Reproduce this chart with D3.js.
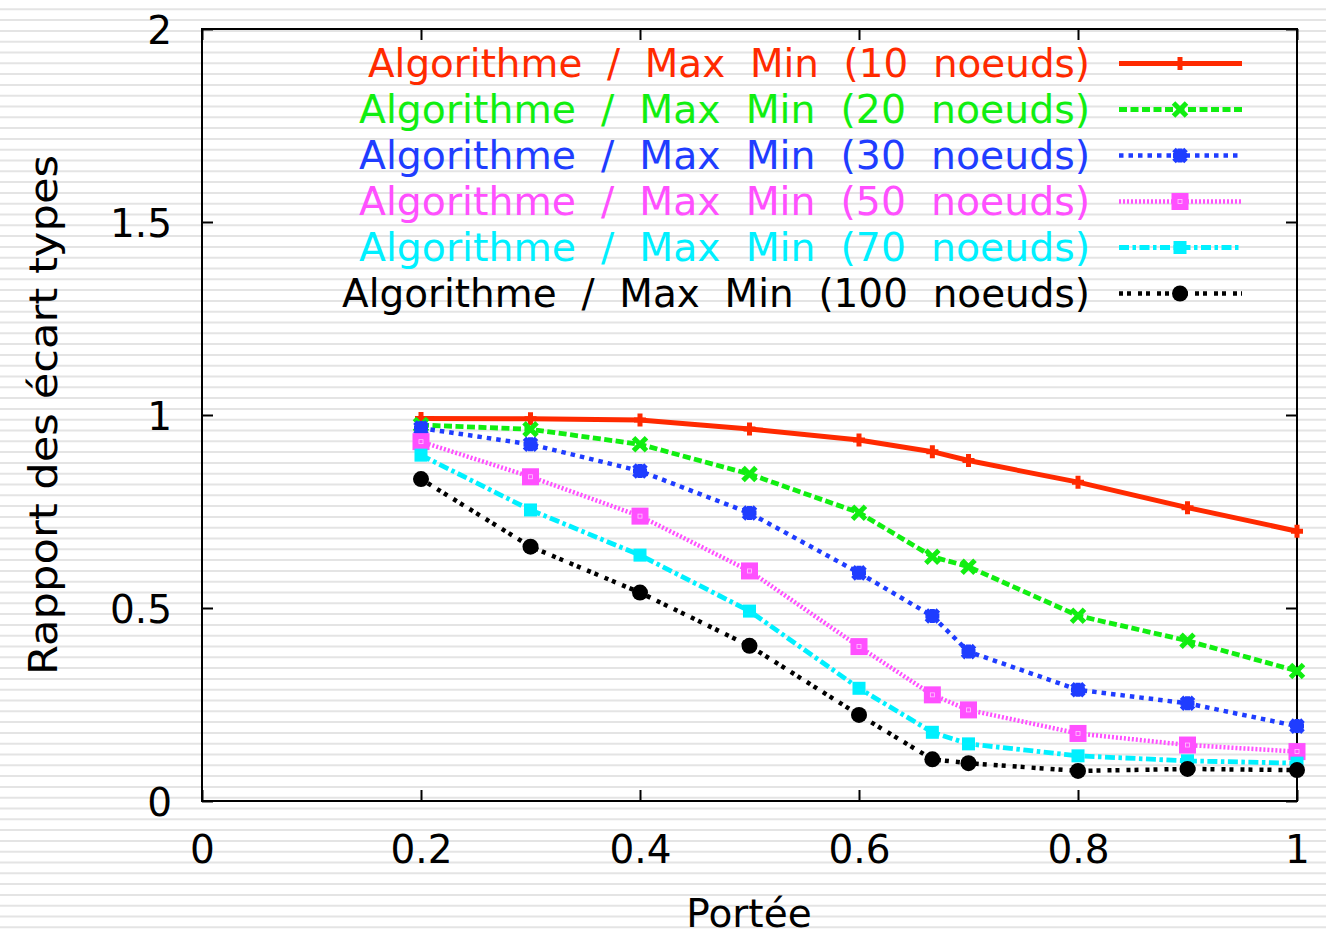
<!DOCTYPE html>
<html>
<head>
<meta charset="utf-8">
<script src="https://cdn.jsdelivr.net/npm/d3@7"></script>
<style>
  html, body { margin: 0; padding: 0; background: #fff; }
  svg { display: block; }
  text { font-family: "DejaVu Sans", sans-serif; }
</style>
</head>
<body>
<svg id="chart" width="1326" height="937"></svg>
<script>
// ---------------- data ----------------
const portee = [0.2, 0.3, 0.4, 0.5, 0.6, 0.667, 0.7, 0.8, 0.9, 1.0];
const seriesNames = [
  "Algorithme  /  Max  Min  (10  noeuds)",
  "Algorithme  /  Max  Min  (20  noeuds)",
  "Algorithme  /  Max  Min  (30  noeuds)",
  "Algorithme  /  Max  Min  (50  noeuds)",
  "Algorithme  /  Max  Min  (70  noeuds)",
  "Algorithme  /  Max  Min  (100  noeuds)"
];
const n10  = [0.991, 0.990, 0.987, 0.964, 0.935, 0.905, 0.882, 0.826, 0.760, 0.699];
const n20  = [0.974, 0.963, 0.924, 0.847, 0.747, 0.633, 0.607, 0.480, 0.415, 0.337];
const n30  = [0.966, 0.924, 0.855, 0.746, 0.591, 0.479, 0.387, 0.288, 0.253, 0.194];
const n50  = [0.931, 0.840, 0.738, 0.596, 0.400, 0.275, 0.236, 0.175, 0.145, 0.128];
const n70  = [0.896, 0.754, 0.637, 0.492, 0.292, 0.178, 0.148, 0.117, 0.104, 0.098];
const n100 = [0.834, 0.659, 0.540, 0.402, 0.223, 0.108, 0.098, 0.078, 0.083, 0.080];
const xTicks = [0, 0.2, 0.4, 0.6, 0.8, 1];
const xTickLabels = ["0", "0.2", "0.4", "0.6", "0.8", "1"];
const yTicks = [0, 0.5, 1, 1.5, 2];
const yTickLabels = ["0", "0.5", "1", "1.5", "2"];
const xTitle = "Portée";
const yTitle = "Rapport des écart types";

// ---------------- styles ----------------
const styles = [
  { color: "#ff2a00", dash: null,            width: 5,   marker: "plus" },
  { color: "#11ee11", dash: "8,3.5",         width: 4.8, marker: "cross" },
  { color: "#1f3dff", dash: "4.5,5",         width: 4.5, marker: "star" },
  { color: "#ff50ff", dash: "2,2",           width: 4.5, marker: "bigsquare" },
  { color: "#00f0ff", dash: "10,3.5,3.5,3.5",width: 4.8, marker: "square" },
  { color: "#000000", dash: "4,4,4,7",       width: 4.5, marker: "circle" }
];
const allSeries = [n10, n20, n30, n50, n70, n100];

(function () {
const W = 1326, H = 937;
const svg = d3.select("#chart");

// striped background
const bg = svg.append("g");
const stripeYs = d3.range(9.3, H, 10.8);
bg.selectAll("line").data(stripeYs).enter().append("line")
  .attr("x1", 0).attr("x2", W).attr("y1", d => d).attr("y2", d => d)
  .attr("stroke", "#e4e4e4").attr("stroke-width", 2);

const pL = 202, pR = 1297, pT = 29, pB = 801;
const x = d3.scaleLinear().domain([0, 1]).range([pL, pR]);
const y = d3.scaleLinear().domain([0, 2]).range([pB, pT]);

const FS = 39;

// axes with inward ticks
const gx = svg.append("g").attr("transform", `translate(0,${pB})`)
  .call(d3.axisBottom(x).tickValues(xTicks).tickFormat((d, i) => xTickLabels[i])
    .tickSizeInner(-11).tickSizeOuter(0).tickPadding(34));
const gy = svg.append("g").attr("transform", `translate(${pL},0)`)
  .call(d3.axisLeft(y).tickValues(yTicks).tickFormat((d, i) => yTickLabels[i])
    .tickSizeInner(-11).tickSizeOuter(0).tickPadding(30));
const gt = svg.append("g").attr("transform", `translate(0,${pT})`)
  .call(d3.axisTop(x).tickValues(xTicks).tickFormat("").tickSizeInner(-11).tickSizeOuter(0));
const gr = svg.append("g").attr("transform", `translate(${pR},0)`)
  .call(d3.axisRight(y).tickValues(yTicks).tickFormat("").tickSizeInner(-11).tickSizeOuter(0));
[gx, gy, gt, gr].forEach(g => {
  g.select(".domain").remove();
  g.selectAll(".tick line").attr("stroke", "#000").attr("stroke-width", 2);
  g.selectAll(".tick text").attr("fill", "#000").attr("font-size", FS)
    .attr("font-family", "DejaVu Sans, sans-serif");
});
gy.selectAll(".tick text").attr("dy", "0.37em");

// frame
svg.append("rect").attr("x", pL).attr("y", pT)
  .attr("width", pR - pL).attr("height", pB - pT)
  .attr("fill", "none").attr("stroke", "#000").attr("stroke-width", 2);

// titles
svg.append("text").attr("x", (pL + pR) / 2 - 0.5).attr("y", 927)
  .attr("text-anchor", "middle").attr("font-size", FS).attr("fill", "#000").text(xTitle);
svg.append("text").attr("transform", `translate(57,415) rotate(-90)`)
  .attr("text-anchor", "middle").attr("font-size", FS).attr("fill", "#000")
  .attr("textLength", 520).attr("lengthAdjust", "spacingAndGlyphs").text(yTitle);

// markers
function drawMarker(g, type, cx, cy, color) {
  const m = g.append("g").attr("transform", `translate(${cx},${cy})`);
  if (type === "plus") {
    m.append("path").attr("d", "M-6,0H6M0,-6.5V6.5").attr("stroke", color).attr("stroke-width", 5).attr("fill", "none");
  } else if (type === "cross") {
    m.append("path").attr("d", "M-6.5,-6.5L6.5,6.5M-6.5,6.5L6.5,-6.5").attr("stroke", color).attr("stroke-width", 5).attr("fill", "none");
  } else if (type === "star") {
    m.append("path").attr("d", "M-6,-6L6,6M-6,6L6,-6M-7,0H7M0,-7V7").attr("stroke", color).attr("stroke-width", 5).attr("fill", "none");
  } else if (type === "bigsquare") {
    m.append("rect").attr("x", -8.5).attr("y", -8.5).attr("width", 17).attr("height", 17).attr("fill", color);
    m.append("rect").attr("x", -2).attr("y", -2).attr("width", 4).attr("height", 4)
      .attr("fill", "none").attr("stroke", "#ffc8ff").attr("stroke-width", 0.8);
  } else if (type === "square") {
    m.append("rect").attr("x", -6.5).attr("y", -6.5).attr("width", 13).attr("height", 13).attr("fill", color);
  } else if (type === "circle") {
    m.append("circle").attr("r", 8).attr("fill", color);
  }
}

const line = d3.line().x(d => x(d[0])).y(d => y(d[1]));

allSeries.forEach((vals, i) => {
  const st = styles[i];
  const g = svg.append("g");
  const pts = portee.map((p, j) => [p, vals[j]]);
  g.append("path").datum(pts).attr("d", line)
    .attr("fill", "none").attr("stroke", st.color).attr("stroke-width", st.width)
    .attr("stroke-dasharray", st.dash).attr("stroke-linejoin", "miter");
  pts.forEach(p => drawMarker(g, st.marker, x(p[0]), y(p[1]), st.color));

  // legend entry
  const ly = 63.5 + i * 46;
  const textLen = i === 0 ? 722 : (i === 5 ? 748 : 731);
  g.append("text").attr("x", 1090).attr("y", ly + 13)
    .attr("text-anchor", "end").attr("font-size", FS).attr("fill", st.color)
    .attr("textLength", textLen).attr("lengthAdjust", "spacingAndGlyphs")
    .attr("xml:space", "preserve").style("white-space", "pre")
    .text(seriesNames[i]);
  g.append("line").attr("x1", 1119).attr("x2", 1242).attr("y1", ly).attr("y2", ly)
    .attr("stroke", st.color).attr("stroke-width", st.width).attr("stroke-dasharray", st.dash);
  drawMarker(g, st.marker, 1180, ly, st.color);
});
})();
</script>
</body>
</html>
